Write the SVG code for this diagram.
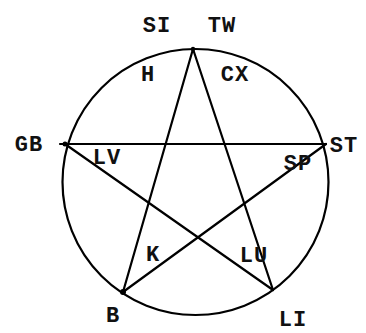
<svg xmlns="http://www.w3.org/2000/svg" width="366" height="333" viewBox="0 0 366 333">
<style>
.ln{stroke:#000;stroke-width:2.2;fill:none;stroke-linecap:round}
.lb{font-family:"Liberation Mono","Courier New",monospace;font-size:22px;font-weight:bold;fill:#111;text-anchor:middle;letter-spacing:1px}
</style>
<rect width="366" height="333" fill="#fff"/>
<g id="circle"><circle cx="195.5" cy="182" r="133" class="ln" stroke-width="2.6"/></g>
<g id="connectors">
<line class="ln" x1="193" y1="49" x2="123" y2="292"/>
<line class="ln" x1="193" y1="49" x2="273" y2="290"/>
<line class="ln" x1="60" y1="144" x2="326" y2="144"/>
<line class="ln" x1="65" y1="144" x2="273" y2="290"/>
<line class="ln" x1="123" y1="292" x2="326" y2="144"/>
</g>
<g id="TW"><circle cx="193" cy="49" r="2.2"/><text class="lb" x="222" y="32">TW</text></g>
<g id="SI"><text class="lb" x="157" y="32">SI</text></g>
<g id="H"><text class="lb" x="148" y="81">H</text></g>
<g id="CX"><text class="lb" x="235" y="81">CX</text></g>
<g id="GB"><circle cx="65" cy="144" r="2.5"/><text class="lb" x="29" y="151">GB</text></g>
<g id="LV"><text class="lb" x="107" y="164">LV</text></g>
<g id="ST"><text class="lb" x="344" y="152">ST</text></g>
<g id="SP"><text class="lb" x="298" y="170">SP</text></g>
<g id="K"><text class="lb" x="153" y="261">K</text></g>
<g id="LU"><text class="lb" x="254" y="262">LU</text></g>
<g id="B"><circle cx="123" cy="292" r="3"/><text class="lb" x="113" y="322">B</text></g>
<g id="LI"><text class="lb" x="293" y="326">LI</text></g>
</svg>
